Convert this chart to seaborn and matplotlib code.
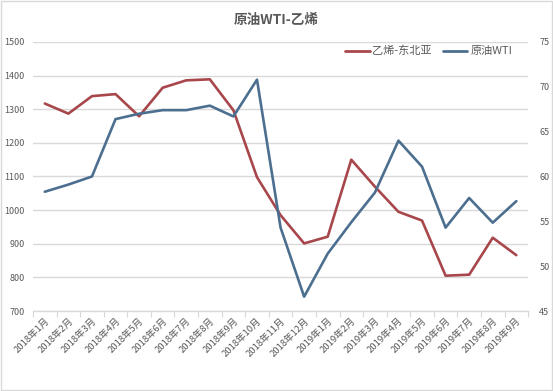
import matplotlib
matplotlib.use("Agg")
import matplotlib.pyplot as plt
import seaborn as sns
import pandas as pd
import numpy as np
from matplotlib.lines import Line2D

months = ["2018年1月", "2018年2月", "2018年3月", "2018年4月", "2018年5月", "2018年6月",
          "2018年7月", "2018年8月", "2018年9月", "2018年10月", "2018年11月", "2018年12月",
          "2019年1月", "2019年2月", "2019年3月", "2019年4月", "2019年5月", "2019年6月",
          "2019年7月", "2019年8月", "2019年9月"]
ethylene = [1317, 1287, 1339, 1345, 1279, 1364, 1386, 1389, 1297, 1098, 985, 901,
            921, 1150, 1070, 995, 969, 805, 808, 918, 866]
wti = [58.3, 59.1, 60.0, 66.4, 67.0, 67.4, 67.4, 67.9, 66.7, 70.8, 54.3, 46.6,
       51.4, 54.9, 58.2, 64.0, 61.1, 54.3, 57.6, 54.85, 57.25]
left_ticks = [700, 800, 900, 1000, 1100, 1200, 1300, 1400, 1500]
right_ticks = [45, 50, 55, 60, 65, 70, 75]

sns.set_theme(style="white")
plt.rcParams['font.family'] = ['Noto Sans CJK SC', 'DejaVu Sans']

RED = "#A8474B"
BLUE = "#4C6F8F"
GRAY = "#595959"

df = pd.DataFrame({"pos": np.arange(len(months)), "ethylene": ethylene, "wti": wti})

fig = plt.figure(figsize=(5.53, 3.91), dpi=100)
ax = fig.add_axes([0.0597, 0.2046, 0.8953, 0.688])
ax2 = ax.twinx()

sns.lineplot(data=df, x="pos", y="ethylene", ax=ax, color=RED, linewidth=1.9)
sns.lineplot(data=df, x="pos", y="wti", ax=ax2, color=BLUE, linewidth=1.9)

ax.set_xlim(-0.5, len(months) - 0.5)
ax.set_ylim(700, 1500)
ax2.set_ylim(45, 75)
ax.set_yticks(left_ticks)
ax2.set_yticks(right_ticks)
ax.set_yticklabels([str(t) for t in left_ticks])
ax2.set_yticklabels([str(t) for t in right_ticks])
ax.grid(axis="y", color="#D9D9D9", linewidth=1.0)
ax.set_axisbelow(True)

ax.set_xticks(np.arange(len(months)))
ax.set_xticklabels(months, rotation=45, ha="right", rotation_mode="anchor")
ax.set_xticks(np.arange(-0.5, len(months), 1.0), minor=True)
ax.tick_params(axis="x", which="major", length=0, labelsize=6.8, colors=GRAY, pad=4)
ax.tick_params(axis="x", which="minor", length=4, color="#D9D9D9", width=0.8, direction="out", bottom=True)
ax.tick_params(axis="y", length=0, labelsize=6.5, colors=GRAY, pad=6)
ax2.tick_params(axis="y", length=0, labelsize=6.5, colors=GRAY, pad=8)

ax.set_xlabel("")
ax.set_ylabel("")
ax2.set_ylabel("")
for a in (ax, ax2):
    for s in ["top", "left", "right"]:
        a.spines[s].set_visible(False)
    a.spines["bottom"].set_visible(False)
ax.spines["bottom"].set_visible(True)
ax.spines["bottom"].set_color("#D9D9D9")
ax.spines["bottom"].set_linewidth(1.0)

fig.text(0.5, 0.948, "原油WTI-乙烯", ha="center", va="center", fontsize=9.8,
         fontweight="bold", color=GRAY)

handles = [Line2D([0], [0], color=RED, lw=2), Line2D([0], [0], color=BLUE, lw=2)]
fig.legend(handles, ["乙烯-东北亚", "原油WTI"], loc="center", bbox_to_anchor=(0.775, 0.869),
           ncol=2, frameon=False, fontsize=8, handlelength=2.2, handletextpad=0.25,
           columnspacing=1.0, labelcolor=GRAY)

border = plt.Rectangle((0.002, 0.002), 0.996, 0.996, transform=fig.transFigure,
                       fill=False, edgecolor="#D9D9D9", linewidth=1.0)
fig.patches.append(border)

fig.savefig("out.png", dpi=100)
